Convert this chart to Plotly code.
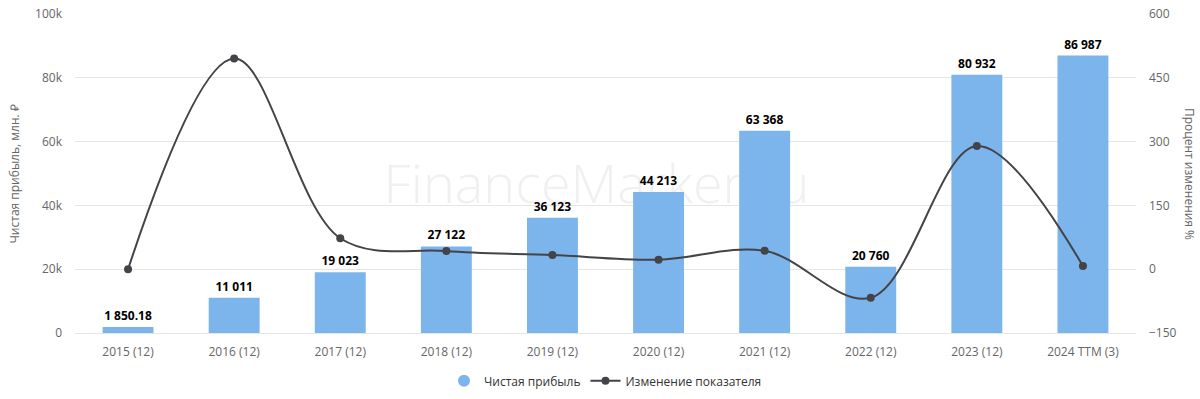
import plotly.graph_objects as go

categories = ["2015 (12)", "2016 (12)", "2017 (12)", "2018 (12)", "2019 (12)",
              "2020 (12)", "2021 (12)", "2022 (12)", "2023 (12)", "2024 TTM (3)"]
net_profit = [1850.18, 11011, 19023, 27122, 36123, 44213, 63368, 20760, 80932, 86987]
change_pct = [0, 495.1, 72.8, 42.6, 33.2, 22.4, 43.3, -67.2, 289.8, 7.5]

left_ticks = [0, 20000, 40000, 60000, 80000, 100000]
left_tick_labels = ["0", "20k", "40k", "60k", "80k", "100k"]
right_ticks = [-150, 0, 150, 300, 450, 600]


def fmt(v):
    s = f"{v:,.2f}" if v != int(v) else f"{v:,.0f}"
    return s.replace(",", " ")


bar_color = "#7cb5ec"
line_color = "#434348"
font_family = "Open Sans"

fig = go.Figure()
fig.add_trace(go.Bar(
    x=categories, y=net_profit, name="Чистая прибыль",
    marker=dict(color=bar_color, line=dict(width=0)),
    text=[fmt(v) for v in net_profit], textposition="outside",
    textfont=dict(family=font_family, size=12, color="#000000", weight="bold"),
    cliponaxis=False, showlegend=False, legendgroup="np",
))
fig.add_trace(go.Scatter(
    x=[None], y=[None], mode="markers", name="Чистая прибыль",
    marker=dict(color=bar_color, size=12, symbol="circle"),
    legendgroup="np",
))
fig.add_trace(go.Scatter(
    x=categories, y=change_pct, name="Изменение показателя", yaxis="y2",
    mode="lines+markers", line=dict(color=line_color, width=2, shape="spline", smoothing=1.0),
    marker=dict(color=line_color, size=8), cliponaxis=False,
))

fig.update_layout(
    width=1200, height=399,
    margin=dict(l=75, r=64, t=14, b=66, autoexpand=False),
    paper_bgcolor="white", plot_bgcolor="white",
    font=dict(family=font_family, size=12, color="#666666"),
    bargap=0.52,
    xaxis=dict(type="category", range=[-0.5, 9.5], showgrid=False, showline=True,
               linecolor="#e6e6e6", linewidth=1, ticks="", ticklabelstandoff=8,
               tickfont=dict(size=12, color="#666666")),
    yaxis=dict(range=[0, 100000], tickvals=left_ticks, ticktext=left_tick_labels,
               showgrid=True, gridcolor="#e6e6e6", gridwidth=1, zeroline=False,
               ticks="", ticklabelstandoff=12, tickfont=dict(size=12, color="#666666")),
    yaxis2=dict(range=[-150, 600], tickvals=right_ticks, overlaying="y", side="right",
                showgrid=False, zeroline=False, ticks="", ticklabelstandoff=12,
                tickfont=dict(size=12, color="#666666")),
    legend=dict(orientation="h", x=0.5, xanchor="center", y=-0.15, yanchor="middle",
                font=dict(size=12, color="#333333"), itemwidth=30),
    showlegend=True,
    shapes=[dict(type="rect", xref="paper", yref="paper", x0=0.1915, x1=0.7915,
                 y0=0.312, y1=0.612,
                 line=dict(width=0), fillcolor="rgba(0,0,0,0)", layer="below",
                 label=dict(text="FinanceMarker.ru", textposition="middle center",
                            font=dict(family=font_family, size=54, color="#f0f0f0",
                                      weight=300)))],
    annotations=[
        dict(text="Чистая прибыль, млн. ₽", xref="paper", yref="paper", x=-0.0566, y=0.5,
             xanchor="center", yanchor="middle", textangle=-90, showarrow=False,
             font=dict(size=12, color="#666666")),
        dict(text="Процент изменения %", xref="paper", yref="paper", x=1.0505, y=0.5,
             xanchor="center", yanchor="middle", textangle=90, showarrow=False,
             font=dict(size=12, color="#666666")),
    ],
)

fig.write_html("out.html", config={"displayModeBar": False},
               post_script="document.body.style.margin='0';document.body.style.overflow='hidden';")
